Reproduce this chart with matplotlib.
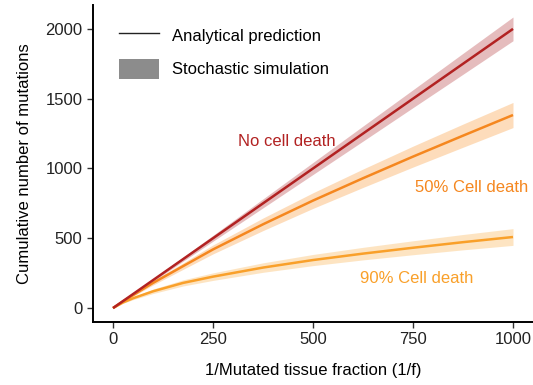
import matplotlib
matplotlib.use("Agg")
import matplotlib.pyplot as plt
from matplotlib.lines import Line2D
from matplotlib.patches import Patch

plt.rcParams["font.family"] = ["Liberation Sans", "DejaVu Sans"]

# 1/f values at which the curves were read
inv_f = [0, 25, 50, 100, 175, 250, 375, 500, 625, 750, 875, 1000]

# No cell death
none_mean = [0, 50, 100, 200, 350, 500, 750, 1000, 1250, 1500, 1750, 2000]
none_half = [0, 3, 5, 9, 15, 21, 32, 43, 54, 64, 75, 85]

# 50% cell death
half_mean = [0, 48, 92, 180, 300, 420, 600, 770, 930, 1085, 1235, 1383]
half_half = [0, 5, 8, 15, 23, 32, 45, 56, 66, 75, 83, 90]

# 90% cell death
ninety_mean = [0, 40, 70, 120, 180, 225, 290, 344, 390, 432, 472, 509]
ninety_half = [0, 6, 10, 16, 22, 27, 34, 40, 45, 50, 55, 60]

x_ticks = [0, 250, 500, 750, 1000]
y_ticks = [0, 500, 1000, 1500, 2000]

series = [
    (none_mean, none_half, "#B22222", "#E3B5B6", "No cell death", (435, 1190)),
    (half_mean, half_half, "#F5871F", "#FDD9B4", "50% Cell death", (897, 867)),
    (ninety_mean, ninety_half, "#F9A02A", "#FDE2BC", "90% Cell death", (760, 210)),
]

FS = 12

fig = plt.figure(figsize=(5.33, 3.85), dpi=100)
ax = fig.add_axes([0.1745, 0.1636, 0.8255, 0.823])

# draw in reverse so the red line sits on top
for mean, half, line_c, band_c, label, pos in reversed(series):
    lo = [m - h for m, h in zip(mean, half)]
    hi = [m + h for m, h in zip(mean, half)]
    ax.fill_between(inv_f, lo, hi, color=band_c, lw=0, alpha=0.9)
    ax.plot(inv_f, mean, color=line_c, lw=1.8, solid_capstyle="butt")
    ax.text(pos[0], pos[1], label, color=line_c, fontsize=FS,
            ha="center", va="center")

ax.set_xlim(-50, 1050)
ax.set_ylim(-100, 2170)
ax.set_xticks(x_ticks)
ax.set_yticks(y_ticks)
ax.tick_params(labelsize=FS, length=4, width=1, colors="#333333",
               labelcolor="#222222")
for side in ("top", "right"):
    ax.spines[side].set_visible(False)
for side in ("left", "bottom"):
    ax.spines[side].set_linewidth(1.4)

ax.set_xlabel("1/Mutated tissue fraction (1/f)", fontsize=FS, labelpad=11)
ax.set_ylabel("Cumulative number of mutations", fontsize=FS, labelpad=10)

handles = [
    Line2D([], [], color="#222222", lw=1.0),
    Patch(facecolor="#8C8C8C", edgecolor="none"),
]
ax.legend(handles, ["Analytical prediction", "Stochastic simulation"],
          loc="upper left", bbox_to_anchor=(0.025, 0.985), frameon=False,
          fontsize=FS, handlelength=2.4, handleheight=1.5,
          labelspacing=0.8, handletextpad=0.75)

fig.savefig("out.png", dpi=100)
